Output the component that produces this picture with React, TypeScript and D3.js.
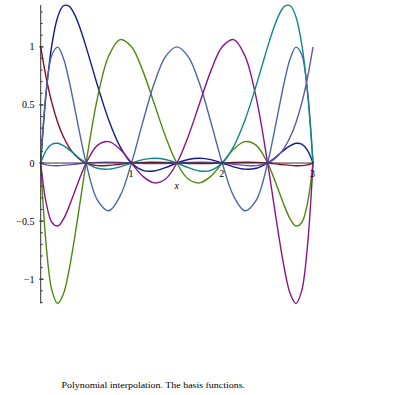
import React from 'react';
import * as d3 from 'd3';

// sample abscissae (x), denser near the ends where the basis functions swing hardest
const xs = [0, 0.0625, 0.125, 0.1875, 0.25, 0.3125, 0.375, 0.4375, 0.5, 0.625, 0.75, 0.875, 1,
    1.125, 1.25, 1.375, 1.5, 1.625, 1.75, 1.875, 2, 2.125, 2.25, 2.375, 2.5,
    2.5625, 2.625, 2.6875, 2.75, 2.8125, 2.875, 2.9375, 3];

// values of each basis function read at xs
const basis0 = [1, 0.7271, 0.5134, 0.3492, 0.2256, 0.1350, 0.0708, 0.0274, 0, -0.0223, -0.0205, -0.0101, 0,
    0.0059, 0.0068, 0.0042, 0, -0.0035, -0.0049, -0.0035, 0, 0.0042, 0.0068, 0.0059, 0,
    -0.0047, -0.0101, -0.0157, -0.0205, -0.0233, -0.0223, -0.0155, 0];
const basis1 = [0, 0.6232, 1.0269, 1.2571, 1.3535, 1.3499, 1.2747, 1.1516, 1, 0.6697, 0.3691, 0.1416, 0,
    -0.0635, -0.0684, -0.0393, 0, 0.0306, 0.0410, 0.0288, 0, -0.0327, -0.0527, -0.0447, 0,
    0.0349, 0.0750, 0.1157, 0.1504, 0.1699, 0.1621, 0.1119, 0];
const basis2 = [0, -0.7271, -1.1002, -1.2088, -1.1279, -0.9204, -0.6374, -0.3199, 0, 0.5581, 0.9229, 1.0622, 1,
    0.7931, 0.5127, 0.2291, 0, -0.1375, -0.1709, -0.1133, 0, 0.1180, 0.1846, 0.1522, 0,
    -0.1152, -0.2451, -0.3750, -0.4834, -0.5419, -0.5134, -0.3518, 0];
const basis3 = [0, 0.6322, 0.9335, 0.9977, 0.9023, 0.7105, 0.4721, 0.2258, 0, -0.3189, -0.4102, -0.2833, 0,
    0.3525, 0.6836, 0.9164, 1, 0.9164, 0.6836, 0.3525, 0, -0.2833, -0.4102, -0.3189, 0,
    0.2258, 0.4721, 0.7105, 0.9023, 0.9977, 0.9335, 0.6322, 0];
const basis4 = [0, -0.3518, -0.5134, -0.5419, -0.4834, -0.3750, -0.2451, -0.1152, 0, 0.1522, 0.1846, 0.1180, 0,
    -0.1133, -0.1709, -0.1375, 0, 0.2291, 0.5127, 0.7931, 1, 1.0622, 0.9229, 0.5581, 0,
    -0.3199, -0.6374, -0.9204, -1.1279, -1.2088, -1.1002, -0.7271, 0];
const basis5 = [0, 0.1119, 0.1621, 0.1699, 0.1504, 0.1157, 0.0750, 0.0349, 0, -0.0447, -0.0527, -0.0327, 0,
    0.0288, 0.0410, 0.0306, 0, -0.0393, -0.0684, -0.0635, 0, 0.1416, 0.3691, 0.6697, 1,
    1.1516, 1.2747, 1.3499, 1.3535, 1.2571, 1.0269, 0.6232, 0];
const basis6 = [0, -0.0155, -0.0223, -0.0233, -0.0205, -0.0157, -0.0101, -0.0047, 0, 0.0059, 0.0068, 0.0042, 0,
    -0.0035, -0.0049, -0.0035, 0, 0.0042, 0.0068, 0.0059, 0, -0.0101, -0.0205, -0.0223, 0,
    0.0274, 0.0708, 0.1350, 0.2256, 0.3492, 0.5134, 0.7271, 1];

const series = [basis0, basis1, basis2, basis3, basis4, basis5, basis6];
const colors = ['#8c0a22', '#101c8c', '#4e8a0c', '#4c66a4', '#8c128c', '#10868a', '#6a50b4'];

const xTicks = [1, 2, 3];
const yTicks = [-1, -0.5, 0, 0.5, 1];
const yTickLabels = ['\u22121', '\u22120.5', '0', '0.5', '1'];
const caption = 'Polynomial interpolation. The basis functions.';

export default function App() {
    const x = d3.scaleLinear().domain([0, 3]).range([40.7, 313]);
    const y = d3.scaleLinear().domain([-1.2088, 1.36]).range([303.5, 5]);

    const line = d3.line<[number, number]>()
        .x(d => x(d[0]))
        .y(d => y(d[1]))
        .curve(d3.curveCatmullRom.alpha(0.5));

    const yMinor = d3.range(-12, 14).map(i => i / 10);
    const axisColor = '#333';
    const font = 'Liberation Serif, Times New Roman, serif';

    return (
        <svg width={395} height={395} style={{ position: 'absolute', left: 0, top: 0, background: '#fff' }}>
            {/* curves */}
            <g fill="none" strokeWidth={1.4} strokeLinejoin="round">
                {series.map((s, i) => (
                    <path key={i} d={line(s.map((v, j) => [xs[j], v] as [number, number])) || ''} stroke={colors[i]} />
                ))}
            </g>

            {/* y axis */}
            <g stroke={axisColor} strokeWidth={1}>
                <line x1={x(0)} x2={x(0)} y1={y(1.36)} y2={y(-1.2088)} />
                {yMinor.map(v => (
                    <line key={v} x1={x(0)} x2={x(0) + 2} y1={y(v)} y2={y(v)} />
                ))}
                {yTicks.map(v => (
                    <line key={'M' + v} x1={x(0) - 1.5} x2={x(0) + 3} y1={y(v)} y2={y(v)} />
                ))}
            </g>
            <g fontFamily={font} fontSize={10} fill="#000" textAnchor="end">
                {yTicks.map((v, i) => (
                    <text key={v} x={34.5} y={y(v) + 3.5}>{yTickLabels[i]}</text>
                ))}
            </g>

            {/* x axis */}
            <g stroke={axisColor} strokeWidth={1}>
                <line x1={x(0)} x2={x(3)} y1={y(0)} y2={y(0)} />
                {xTicks.map(v => (
                    <line key={'M' + v} x1={x(v)} x2={x(v)} y1={y(0) + 1} y2={y(0) - 2} />
                ))}
            </g>
            <g fontFamily={font} fontSize={10} fill="#000" textAnchor="middle">
                {xTicks.map(v => (
                    <text key={v} x={x(v) - 0.5} y={y(0) + 14}>{v}</text>
                ))}
                <text x={x(1.5)} y={y(0) + 26} fontStyle="italic">x</text>
            </g>

            <text x={61.5} y={388} fontFamily={font} fontSize={9} textLength={183.5}
                lengthAdjust="spacingAndGlyphs">{caption}</text>
        </svg>
    );
}
